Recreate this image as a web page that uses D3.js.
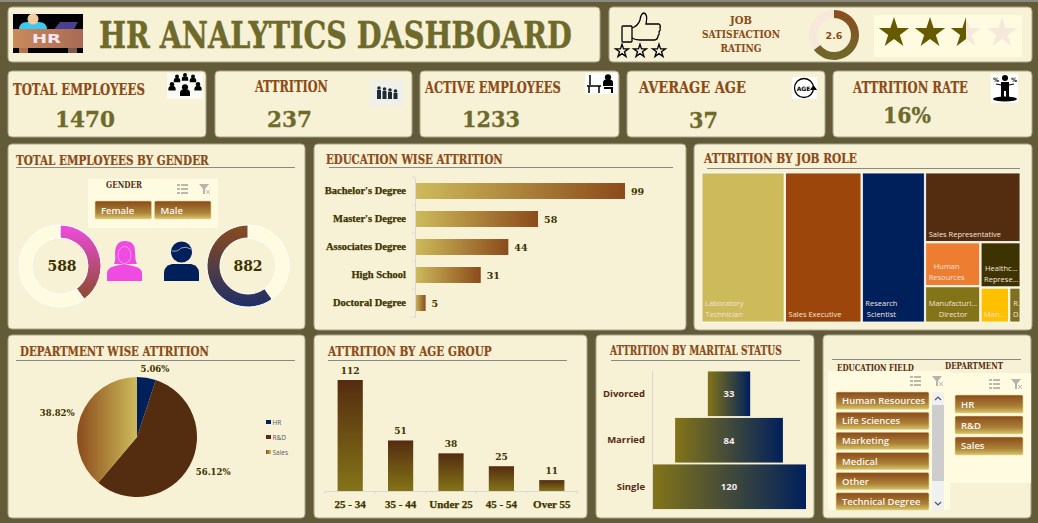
<!DOCTYPE html>
<html>
<head>
<meta charset="utf-8">
<title>HR Analytics Dashboard</title>
<script src="https://cdn.jsdelivr.net/npm/d3@7"></script>
<style>
    html, body { margin: 0; padding: 0; background: #635a38; overflow: hidden; }
    svg { display: block; }
</style>
</head>
<body>
<div id="dash"></div>
<script>
// ---- data ----
const kpiTitles = ["TOTAL EMPLOYEES", "ATTRITION", "ACTIVE EMPLOYEES", "AVERAGE AGE", "ATTRITION RATE"];
const kpiValues = ["1470", "237", "1233", "37", "16%"];

const ratingValue = 2.6;
const ratingMax = 4;

const genderNames = ["Female", "Male"];
const genderValues = [588, 882];

const eduLevels = ["Bachelor's Degree", "Master's Degree", "Associates Degree", "High School", "Doctoral Degree"];
const eduAttrition = [99, 58, 44, 31, 5];

const roleNames = ["Laboratory Technician", "Sales Executive", "Research Scientist", "Sales Representative",
    "Human Resources", "Manufacturing Director", "Healthcare Representative", "Manager", "Research Director"];
const roleValues = [62, 57, 47, 33, 12, 10, 9, 5, 2];
const roleLabels = [["Laboratory", "Technician"], ["Sales Executive"], ["Research", "Scientist"], ["Sales Representative"],
    ["Human", "Resources"], ["Manufacturi...", "Director"], ["Healthc...", "Represe..."], ["Man..."], ["R...", "D..."]];
const roleColors = ["#cdbb5b", "#9c460c", "#00205c", "#542c10", "#ed7d31", "#847418", "#3d3300", "#ffc000", "#7f7020"];

const deptNames = ["HR", "R&D", "Sales"];
const deptAttrition = [12, 133, 92];

const ageGroups = ["25 - 34", "35 - 44", "Under 25", "45 - 54", "Over 55"];
const ageAttrition = [112, 51, 38, 25, 11];

const maritalNames = ["Divorced", "Married", "Single"];
const maritalAttrition = [33, 84, 120];

const eduFields = ["Human Resources", "Life Sciences", "Marketing", "Medical", "Other", "Technical Degree"];

// ---- page set up ----
const W = 1038, H = 523;
const cream = "#f7f1d5", pale = "#fffbe0", brown = "#8b4a17", olive = "#6e6a2c", dark = "#3d3300";
const slab = "'DejaVu Serif', serif";
const serif = "'Liberation Serif', serif";
const sans = "'Open Sans', sans-serif";

const svg = d3.select("#dash").append("svg").attr("width", W).attr("height", H);
const defs = svg.append("defs");

function gradient(id, x2, y2, from, to) {
    let g = defs.append("linearGradient").attr("id", id)
        .attr("x1", 0).attr("y1", 0).attr("x2", x2).attr("y2", y2);
    g.append("stop").attr("offset", "0%").attr("stop-color", from);
    g.append("stop").attr("offset", "100%").attr("stop-color", to);
    return g;
}
gradient("gEdu", 1, 0, "#cdbb5b", "#8b4b1b");
gradient("gAge", 0, 1, "#542c10", "#847418");
gradient("gMarital", 1, 0, "#847418", "#00205c");
gradient("gSales", 1, 0, "#8b4b1b", "#cdbb5b");
gradient("gFemale", 0, 1, "#f04be0", "#8b4b2b");
gradient("gMale", 0, 1, "#8b4b1f", "#1d2f66");
gradient("gRing", 0, 1, "#8b4b1f", "#6e6a2c");
gradient("gDesk", 1, 0, "#c98a5c", "#a86a55");
gradient("gButton", 0, 1, "#8b4b1b", "#d8c46a")
    .insert("stop", "stop:last-child").attr("offset", "65%").attr("stop-color", "#ab8238");

function label(parent, x, y, str, o) {
    o = o || {};
    let t = parent.append("text").attr("x", x).attr("y", y).text(str)
        .attr("font-family", o.font || slab)
        .attr("font-size", o.size || 12)
        .attr("font-weight", o.weight || "bold")
        .attr("fill", o.fill || brown)
        .attr("text-anchor", o.anchor || "start");
    if (o.width) {
        // squeeze the text sideways to the width it has in the dashboard
        let k = o.width / t.node().getComputedTextLength();
        t.attr("transform", `translate(${x},0) scale(${k},1) translate(${-x},0)`);
    }
    if (o.heavy) t.attr("stroke", o.fill || brown).attr("stroke-width", o.heavy);
    return t;
}

function panel(x0, y0, x1, y1) {
    svg.append("rect").attr("x", x0).attr("y", y0).attr("width", x1 - x0).attr("height", y1 - y0)
        .attr("rx", 4).attr("fill", cream).attr("stroke", "#a8a590").attr("stroke-width", 1);
}

function rule(x0, x1, y) {
    svg.append("line").attr("x1", x0).attr("x2", x1).attr("y1", y).attr("y2", y)
        .attr("stroke", "#8a8a84").attr("stroke-width", 1);
}

svg.append("rect").attr("width", W).attr("height", 2).attr("fill", "#8c8a80");

// ---- panels ----
panel(8, 7, 600, 62);
panel(609, 7, 1032, 62);
[[8, 206], [215, 412], [420, 619], [627, 825], [833, 1032]].forEach(d => panel(d[0], 71, d[1], 137));
panel(8, 144, 305, 329);
panel(314, 144, 686, 330);
panel(694, 144, 1032, 330);
panel(8, 335, 305, 518);
panel(314, 335, 587, 518);
panel(596, 335, 814, 518);
panel(823, 335, 1031, 518);

label(svg, 99, 48, "HR ANALYTICS DASHBOARD", {size: 37, fill: olive, width: 473, heavy: 0.5});

// panel headings
label(svg, 16, 165, "TOTAL EMPLOYEES BY GENDER", {size: 13, width: 193, heavy: 0.2}); rule(16, 295, 167.5);
label(svg, 326, 164, "EDUCATION WISE ATTRITION", {size: 13, width: 177, heavy: 0.2}); rule(329, 673, 167.5);
label(svg, 704, 163, "ATTRITION BY JOB ROLE", {size: 13, width: 153, heavy: 0.2}); rule(707, 1020, 168.5);
label(svg, 20, 356, "DEPARTMENT WISE ATTRITION", {size: 13, width: 189, heavy: 0.2}); rule(16, 295, 360.5);
label(svg, 328, 356, "ATTRITION BY AGE GROUP", {size: 13, width: 164, heavy: 0.2}); rule(328, 567, 360.5);
label(svg, 610, 355, "ATTRITION BY MARITAL STATUS", {size: 12.5, width: 172, heavy: 0.2}); rule(611, 800, 360.5);
rule(832, 1021, 359.5);

// ---- KPI cards ----
const kpiTitlePos = [[13, 95, 132], [255, 92, 73], [425, 93, 136], [639, 93, 107], [853, 93, 115]];
const kpiValuePos = [[55, 127, 60], [267, 127, 45], [462, 127, 58], [689, 128, 29], [883, 123, 48]];
kpiTitles.forEach((d, i) => {
    label(svg, kpiTitlePos[i][0], kpiTitlePos[i][1], d, {size: 16, width: kpiTitlePos[i][2], heavy: 0.2});
    label(svg, kpiValuePos[i][0], kpiValuePos[i][1], kpiValues[i], {size: 23, fill: olive, width: kpiValuePos[i][2], heavy: 0.3});
});

// ---- icons ----
function person(g, cx, cy, s, fill) {
    g.append("circle").attr("cx", cx).attr("cy", cy - s * 0.75).attr("r", s * 0.62).attr("fill", fill);
    g.append("path").attr("fill", fill)
        .attr("d", `M${cx - s},${cy + s} v${-s * 0.6} q0,${-s * 0.7} ${s * 0.6},${-s * 0.7} h${s * 0.8} q${s * 0.6},0 ${s * 0.6},${s * 0.7} v${s * 0.6} z`);
}

// HR desk logo
let hr = svg.append("g");
hr.append("rect").attr("x", 13).attr("y", 14).attr("width", 70).attr("height", 39).attr("fill", "#000");
hr.append("path").attr("fill", "#3fc8ee").attr("d", "M19,30 q0,-8 8,-8 h12 q8,0 8,8 z");
hr.append("circle").attr("cx", 33).attr("cy", 19).attr("r", 5.5).attr("fill", "#f3cda2");
hr.append("path").attr("fill", "#4b3f92").attr("d", "M60,22 h18 l-5,9 h-20 z");
hr.append("rect").attr("x", 13).attr("y", 29).attr("width", 70).attr("height", 19).attr("fill", "url(#gDesk)");
hr.append("rect").attr("x", 19).attr("y", 48).attr("width", 9).attr("height", 5).attr("fill", "#b07350");
hr.append("rect").attr("x", 68).attr("y", 48).attr("width", 9).attr("height", 5).attr("fill", "#7a5a4a");
label(hr, 32, 43, "HR", {font: "'DejaVu Sans', sans-serif", size: 13, fill: "#f4e6f0", width: 29});

// total employees
let ic1 = svg.append("g");
ic1.append("rect").attr("x", 167).attr("y", 73).attr("width", 36).attr("height", 26).attr("fill", "#fafaf5");
[[177, 79], [185, 77.5], [193, 79]].forEach(d => person(ic1, d[0], d[1], 3.2, "#000"));
[[172, 87], [198, 87]].forEach(d => person(ic1, d[0], d[1], 3.6, "#000"));
person(ic1, 185, 91, 5, "#000");

// attrition queue
let ic2 = svg.append("g");
ic2.append("rect").attr("x", 370).attr("y", 79).attr("width", 34).attr("height", 28).attr("fill", "#f0efe8");
d3.range(4).forEach(i => {
    let x = 379 + i * 5.5, y = 91 + i;
    ic2.append("circle").attr("cx", x).attr("cy", y - 3).attr("r", 1.8).attr("fill", "#1d2a3a");
    ic2.append("rect").attr("x", x - 2).attr("y", y - 1).attr("width", 4).attr("height", 9 - i).attr("fill", "#1d2a3a");
});

// active employee at desk
let ic3 = svg.append("g");
ic3.append("rect").attr("x", 585).attr("y", 73).attr("width", 32).attr("height", 21).attr("fill", "#fff");
ic3.append("path").attr("stroke", "#000").attr("stroke-width", 1.5).attr("fill", "none")
    .attr("d", "M587,86 h14 M589,86 v7 M599,86 v7 M590,85 v-10");
person(ic3, 608, 81, 5, "#000");
ic3.append("path").attr("stroke", "#000").attr("stroke-width", 2).attr("fill", "none").attr("d", "M604,88 h8 v5");

// age
let ic4 = svg.append("g");
ic4.append("rect").attr("x", 792).attr("y", 77).attr("width", 25).attr("height", 22).attr("fill", "#fff");
ic4.append("circle").attr("cx", 804).attr("cy", 88).attr("r", 9.5).attr("fill", "none").attr("stroke", "#000").attr("stroke-width", 1.3);
ic4.append("path").attr("fill", "#000").attr("d", "M810,90 h7 l-3.5,-5 z");
label(ic4, 803.5, 90.5, "AGE", {font: "'DejaVu Sans', sans-serif", size: 6, fill: "#000", anchor: "middle"});

// attrition rate
let ic5 = svg.append("g");
ic5.append("rect").attr("x", 991).attr("y", 74).attr("width", 27).attr("height", 29).attr("fill", "#fff");
ic5.append("circle").attr("cx", 1005).attr("cy", 78).attr("r", 3).attr("fill", "#000");
ic5.append("path").attr("fill", "#000").attr("d", "M1001,82 h8 v17 h-3 v-8 h-2 v8 h-3 z");
ic5.append("path").attr("stroke", "#000").attr("fill", "none").attr("d", "M996,84 l5,1 M1014,84 l-5,1");
ic5.append("ellipse").attr("cx", 1005).attr("cy", 99).attr("rx", 12).attr("ry", 2.5).attr("fill", "#000");
label(ic5, 996, 82, "%", {font: "'DejaVu Sans', sans-serif", size: 6, fill: "#000", anchor: "middle"});
label(ic5, 1014, 82, "%", {font: "'DejaVu Sans', sans-serif", size: 6, fill: "#000", anchor: "middle"});

// thumbs up
let thumb = svg.append("g").attr("fill", "none").attr("stroke", "#000").attr("stroke-width", 1.3);
thumb.append("rect").attr("x", 622).attr("y", 26).attr("width", 10).attr("height", 16).attr("rx", 1);
thumb.append("path").attr("d", "M632,28 q6,-2 8,-8 q1,-7 4,-7 q4,1 2,11 h13 q2,1 1,4 q1,2 -1,4 q1,2 -1,4 q0,3 -3,4 h-15 q-5,0 -8,-2");
[622, 640, 659].forEach(x => {
    thumb.append("path").attr("transform", `translate(${x},51)`)
        .attr("d", d3.symbol(d3.symbolStar, 52)());
});

// ---- rating ----
["JOB", "SATISFACTION", "RATING"].forEach((d, i) => {
    label(svg, 741, 24 + i * 14, d, {size: 11, anchor: "middle", width: [22, 78, 41][i]});
});

const ringArc = d3.arc().innerRadius(17).outerRadius(25);
const ringPie = d3.pie().sort(null)([ratingValue, ratingMax - ratingValue]);
let ring = svg.append("g").attr("transform", "translate(834,35)");
ring.selectAll("path").data(ringPie).join("path")
    .attr("d", ringArc)
    .attr("fill", (d, i) => i == 0 ? "url(#gRing)" : "#f7e8dc");
label(ring, 0, 4, ratingValue, {font: "'DejaVu Sans', sans-serif", size: 9.5, anchor: "middle"});

svg.append("rect").attr("x", 874).attr("y", 15).attr("width", 148).attr("height", 42).attr("fill", pale);
const starX = d3.scaleLinear().domain([1, ratingMax]).range([894, 1002]);
const star = d3.symbol(d3.symbolStar, 287);
const starsFilled = Math.round(ratingValue * 2) / 2;
d3.range(1, ratingMax + 1).forEach(n => {
    svg.append("path").attr("transform", `translate(${starX(n)},33)`).attr("d", star())
        .attr("fill", n <= starsFilled ? "#665a00" : "#f7e8dc");
    if (n > starsFilled && n - 1 < starsFilled) {
        // part filled star, clipped from the centre outward
        defs.append("clipPath").attr("id", "halfStar").append("rect")
            .attr("x", starX(n) - 18).attr("y", 10).attr("width", 36 * (starsFilled - n + 1)).attr("height", 50);
        svg.append("g").attr("clip-path", "url(#halfStar)")
            .append("path").attr("transform", `translate(${starX(n)},33)`).attr("d", star()).attr("fill", "#665a00");
    }
});

// ---- slicer helpers ----
function slicerIcons(x, y) {
    let g = svg.append("g").attr("transform", `translate(${x},${y})`).attr("stroke", "#777").attr("fill", "none");
    d3.range(3).forEach(i => {
        g.append("line").attr("x1", -2).attr("x2", 5).attr("y1", -4 + i * 4).attr("y2", -4 + i * 4);
        g.append("line").attr("x1", -6).attr("x2", -3).attr("y1", -4 + i * 4).attr("y2", -4 + i * 4);
    });
    g.append("path").attr("fill", "#b5b5ae").attr("stroke", "none")
        .attr("d", "M16,-5 h10 l-4,5 v5 h-2 v-5 z");
    g.append("path").attr("stroke", "#c9b8b0").attr("d", "M23,1 l4,4 M27,1 l-4,4");
}

function button(g, x, y, w, h, str) {
    g.append("rect").attr("x", x).attr("y", y).attr("width", w).attr("height", h).attr("rx", 1.5)
        .attr("fill", "url(#gButton)").attr("stroke", "#e4d690").attr("stroke-width", 0.6);
    label(g, x + 6, y + h / 2 + 3.5, str, {font: sans, size: 9.5, weight: 600, fill: "#fff8f4"});
}

// ---- gender ----
svg.append("rect").attr("x", 88).attr("y", 179).attr("width", 130).attr("height", 49).attr("fill", pale);
label(svg, 106, 188, "GENDER", {size: 9, fill: "#542c10", width: 36});
slicerIcons(183, 189);
const genderX = d3.scaleBand().domain(genderNames).range([95, 211]).paddingInner(0.05);
genderNames.forEach(d => button(svg, genderX(d), 201, genderX.bandwidth(), 18, d));

const donutArc = d3.arc().innerRadius(28).outerRadius(41);
const donutPie = d3.pie().sort(null)(genderValues);
let donutF = svg.append("g").attr("transform", "translate(60,266)");
donutF.selectAll("path").data(donutPie).join("path")
    .attr("d", donutArc)
    .attr("stroke", "#fff").attr("stroke-width", 1)
    .attr("fill", (d, i) => i == 0 ? "url(#gFemale)" : pale);
let donutM = svg.append("g").attr("transform", "translate(248,266)");
donutM.selectAll("path").data(donutPie).join("path")
    .attr("d", donutArc)
    .attr("stroke", "#fff").attr("stroke-width", 1)
    .attr("fill", (d, i) => i == 1 ? "url(#gMale)" : pale);
label(donutF, 2, 5, genderValues[0], {size: 14, fill: dark, anchor: "middle"});
label(donutM, 0, 5, genderValues[1], {size: 14, fill: dark, anchor: "middle"});

// female figure
let woman = svg.append("g");
woman.append("path").attr("fill", "#f04be0")
    .attr("d", "M114,264 q2,-4 1,-10 q0,-13 10,-13 q10,0 10,11 q0,8 2,12 z");
woman.append("ellipse").attr("cx", 124.5).attr("cy", 255).attr("rx", 6.5).attr("ry", 8.5).attr("fill", "#f04be0").attr("stroke", "#f7c8ef").attr("stroke-width", 0.6);
woman.append("path").attr("fill", "#f04be0")
    .attr("d", "M107,281 v-8 q0,-5 8,-7 l9,-2 l9,2 q9,2 9,7 v8 z");
// male figure
let man = svg.append("g");
man.append("circle").attr("cx", 181.5).attr("cy", 252).attr("r", 10.5).attr("fill", "#00205c");
man.append("path").attr("stroke", "#d6d6e0").attr("stroke-width", 0.7).attr("fill", "none").attr("d", "M172,251 q6,1 9,-3 q5,-2 10,1");
man.append("path").attr("fill", "#00205c")
    .attr("d", "M164,281 v-8 q0,-7 8,-9 h19 q8,2 8,9 v8 z");

// ---- education bars ----
const eduTop = 177, eduBottom = 317;
const eduX = d3.scaleLinear().domain([0, d3.max(eduAttrition)]).range([415, 625]);
const eduY = d3.scaleBand().domain(eduLevels).range([eduTop, eduBottom]).paddingInner(0.43).paddingOuter(0.215);
let edu = svg.append("g");
edu.selectAll("rect").data(eduLevels).join("rect")
    .attr("x", eduX(0)).attr("y", d => eduY(d))
    .attr("width", (d, i) => eduX(eduAttrition[i]) - eduX(0))
    .attr("height", eduY.bandwidth())
    .attr("fill", "url(#gEdu)");
edu.selectAll("text.val").data(eduLevels).join("text").attr("class", "val")
    .attr("x", (d, i) => eduX(eduAttrition[i]) + 6)
    .attr("y", d => eduY(d) + eduY.bandwidth() / 2 + 3.5)
    .text((d, i) => eduAttrition[i])
    .attr("font-family", slab).attr("font-weight", "bold").attr("font-size", 9.5).attr("fill", dark);
let eduAxis = svg.append("g").attr("transform", `translate(${eduX(0)},0)`)
    .call(d3.axisLeft(eduY).tickSize(0).tickPadding(9));
eduAxis.select(".domain").attr("stroke", "#d9d9d9");
eduAxis.selectAll("text").attr("font-family", serif).attr("font-weight", "bold").attr("font-size", 10.5)
    .attr("fill", dark).attr("stroke", dark).attr("stroke-width", 0.25);
d3.range(eduLevels.length + 1).forEach(i => {
    let y = eduTop + i * eduY.step();
    svg.append("line").attr("x1", eduX(0) - 3).attr("x2", eduX(0)).attr("y1", y).attr("y2", y).attr("stroke", "#d9d9d9");
});

// ---- job role treemap ----
const roles = roleNames.map((d, i) => ({name: d, value: roleValues[i], lines: roleLabels[i], color: roleColors[i]}));
const roleTree = {children: [roles[0], roles[1], roles[2], {children: [roles[3], {children: [
    {children: [roles[4], roles[5]]},
    {children: [roles[6], {children: [roles[7], roles[8]]}]}
]}]}]};
const roleRoot = d3.hierarchy(roleTree).sum(d => d.value || 0);
d3.treemap().tile(d3.treemapSliceDice).size([318, 149]).paddingInner(1.4)(roleRoot);
let tree = svg.append("g").attr("transform", "translate(702,173)");
let cells = tree.selectAll("g").data(roleRoot.leaves()).join("g");
cells.append("rect")
    .attr("x", d => d.x0).attr("y", d => d.y0)
    .attr("width", d => d.x1 - d.x0).attr("height", d => d.y1 - d.y0)
    .attr("fill", d => d.data.color).attr("stroke", "#fff").attr("stroke-width", 0.8);
cells.each(function(d) {
    let g = d3.select(this);
    let n = d.data.lines.length;
    let texts = d.data.lines.map((s, i) => label(g, 0, d.y1 - 5 - (n - 1 - i) * 11, s, {font: sans, size: 7.5, weight: 400, fill: "#f3e3de", anchor: "middle"}));
    let widest = d3.max(texts, t => t.node().getComputedTextLength());
    texts.forEach(t => t.attr("x", d.x0 + 3 + widest / 2));
});

// ---- department pie ----
const pieColors = ["#00205c", "#542c10", "url(#gSales)"];
const pieSlices = d3.pie().sort(null)(deptAttrition);
const pieArc = d3.arc().innerRadius(0).outerRadius(60);
const pieTotal = d3.sum(deptAttrition);
// label radius and nudge per slice, the labels were placed by hand in the original
const pieLabelR = [69, 85, 85];
const pieNudge = [[7, 0], [2, -7], [0, 5]];
let pie = svg.append("g").attr("transform", "translate(137,437)");
pie.selectAll("path").data(pieSlices).join("path")
    .attr("d", pieArc)
    .attr("fill", (d, i) => pieColors[i]);
pieSlices.forEach((d, i) => {
    let mid = (d.startAngle + d.endAngle) / 2;
    let pct = d3.format(".2f")(d.value / pieTotal * 100) + "%";
    label(pie, Math.sin(mid) * pieLabelR[i] + pieNudge[i][0], -Math.cos(mid) * pieLabelR[i] + 3 + pieNudge[i][1], pct,
        {size: 8.5, fill: dark, anchor: "middle"});
});
const legendY = d3.scalePoint().domain(deptNames).range([422, 452]);
deptNames.forEach((d, i) => {
    svg.append("rect").attr("x", 266).attr("y", legendY(d) - 2).attr("width", 5).attr("height", 4).attr("fill", pieColors[i]);
    label(svg, 272.5, legendY(d) + 2.5, d, {font: sans, size: 6.5, weight: 400, fill: "#595959"});
});

// ---- age group bars ----
const ageX = d3.scaleBand().domain(ageGroups).range([325, 577]).paddingInner(0.5).paddingOuter(0.25);
const ageY = d3.scaleLinear().domain([0, d3.max(ageAttrition)]).range([491, 380]);
let age = svg.append("g");
age.selectAll("rect").data(ageGroups).join("rect")
    .attr("x", d => ageX(d)).attr("y", (d, i) => ageY(ageAttrition[i]))
    .attr("width", ageX.bandwidth())
    .attr("height", (d, i) => ageY(0) - ageY(ageAttrition[i]))
    .attr("fill", "url(#gAge)");
age.selectAll("text").data(ageGroups).join("text")
    .attr("x", d => ageX(d) + ageX.bandwidth() / 2)
    .attr("y", (d, i) => ageY(ageAttrition[i]) - 6)
    .attr("text-anchor", "middle")
    .text((d, i) => ageAttrition[i])
    .attr("font-family", slab).attr("font-weight", "bold").attr("font-size", 9).attr("fill", dark);
let ageAxis = svg.append("g").attr("transform", `translate(0,${ageY(0)})`)
    .call(d3.axisBottom(ageX).tickSize(0).tickPadding(9));
ageAxis.select(".domain").attr("stroke", "#d9d9d9");
ageAxis.selectAll("text").attr("font-family", serif).attr("font-weight", "bold").attr("font-size", 11)
    .attr("fill", dark).attr("stroke", dark).attr("stroke-width", 0.25);
d3.range(ageGroups.length + 1).forEach(i => {
    let x = 325 + i * ageX.step();
    svg.append("line").attr("x1", x).attr("x2", x).attr("y1", ageY(0)).attr("y2", ageY(0) + 3).attr("stroke", "#d9d9d9");
});

// ---- marital status funnel ----
const marW = d3.scaleLinear().domain([0, d3.max(maritalAttrition)]).range([0, 154]);
const marY = d3.scaleBand().domain(maritalNames).range([370.5, 510]).paddingInner(0.04).paddingOuter(0.02);
const marMid = 652 + marW(d3.max(maritalAttrition)) / 2;
let funnel = svg.append("g");
funnel.selectAll("rect").data(maritalNames).join("rect")
    .attr("x", (d, i) => marMid - marW(maritalAttrition[i]) / 2)
    .attr("y", d => marY(d))
    .attr("width", (d, i) => marW(maritalAttrition[i]))
    .attr("height", marY.bandwidth())
    .attr("fill", "url(#gMarital)");
funnel.selectAll("text").data(maritalNames).join("text")
    .attr("x", marMid).attr("y", d => marY(d) + marY.bandwidth() / 2 + 3.5)
    .attr("text-anchor", "middle")
    .text((d, i) => maritalAttrition[i])
    .attr("font-family", sans).attr("font-weight", "bold").attr("font-size", 9.5).attr("fill", "#f7eaf0");
let marAxis = svg.append("g").attr("transform", "translate(652,0)")
    .call(d3.axisLeft(marY).tickSize(0).tickPadding(7));
marAxis.select(".domain").attr("stroke", "#d9d9d9");
marAxis.selectAll("text").attr("font-family", sans).attr("font-weight", "bold").attr("font-size", 9.5).attr("fill", "#542c10");

// ---- bottom slicers ----
svg.append("rect").attr("x", 828).attr("y", 371).attr("width", 122).attr("height", 139).attr("fill", pale);
svg.append("rect").attr("x", 950).attr("y", 373).attr("width", 81).attr("height", 110).attr("fill", pale);
label(svg, 837, 371, "EDUCATION FIELD", {size: 9, fill: "#542c10", width: 77});
label(svg, 945, 369, "DEPARTMENT", {size: 9, fill: "#542c10", width: 58});
slicerIcons(916, 381);
slicerIcons(995, 384);

const fieldY = d3.scaleBand().domain(eduFields).range([392, 510]).paddingInner(0.14).paddingOuter(0);
eduFields.forEach(d => button(svg, 836, fieldY(d), 93, fieldY.bandwidth(), d));
const deptY = d3.scaleBand().domain(deptNames).range([395, 455]).paddingInner(0.14).paddingOuter(0);
deptNames.forEach(d => button(svg, 955, deptY(d), 68, deptY.bandwidth(), d));

svg.append("rect").attr("x", 932).attr("y", 392).attr("width", 12).attr("height", 118).attr("fill", "#f0f0f0");
svg.append("rect").attr("x", 932).attr("y", 405).attr("width", 12).attr("height", 76).attr("fill", "#cdcdcd");
svg.append("path").attr("fill", "none").attr("stroke", "#555").attr("stroke-width", 1.2)
    .attr("d", "M935,400 l3,-3 l3,3 M935,502 l3,3 l3,-3");
</script>
</body>
</html>
